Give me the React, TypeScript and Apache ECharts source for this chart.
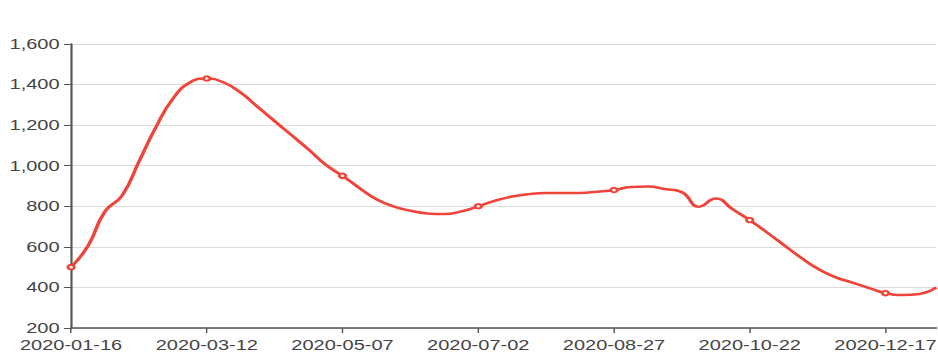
import React, { useEffect, useRef } from "react";
import * as echarts from "echarts";

const dates: string[] = [
  "2020-01-16", "2020-01-23", "2020-01-30", "2020-02-06", "2020-02-13", "2020-02-20", "2020-02-27",
  "2020-03-05", "2020-03-12", "2020-03-19", "2020-03-26", "2020-04-02", "2020-04-09", "2020-04-16",
  "2020-04-23", "2020-04-30", "2020-05-07", "2020-05-14", "2020-05-21", "2020-05-28", "2020-06-04",
  "2020-06-11", "2020-06-18", "2020-06-25", "2020-07-02", "2020-07-09", "2020-07-16", "2020-07-23",
  "2020-07-30", "2020-08-06", "2020-08-13", "2020-08-20", "2020-08-27", "2020-09-03", "2020-09-10",
  "2020-09-17", "2020-09-24", "2020-10-01", "2020-10-08", "2020-10-15", "2020-10-22", "2020-10-29",
  "2020-11-05", "2020-11-12", "2020-11-19", "2020-11-26", "2020-12-03", "2020-12-10", "2020-12-17",
  "2020-12-24", "2020-12-31", "2021-01-07",
];

const prices: number[] = [
  500, 605, 775, 852, 1020, 1190, 1330, 1410, 1430, 1410,
  1360, 1290, 1220, 1150, 1080, 1005, 950, 890, 835, 800,
  778, 765, 762, 775, 800, 828, 848, 860, 865, 865,
  866, 872, 880, 895, 897, 885, 870, 798, 838, 785,
  732, 672, 610, 548, 493, 452, 425, 398, 372, 363,
  368, 400,
];

const yTicks = { min: 200, max: 1600, interval: 200 };
const labelEvery = 8;

const STRETCH = 1.43;
const INNER_W = 658;
const H = 353;

export default function App() {
  const ref = useRef<HTMLDivElement>(null);
  useEffect(() => {
    if (!ref.current) return;
    const chart = echarts.init(ref.current, undefined, { renderer: "svg" });
    chart.setOption({
      animation: false,
      backgroundColor: "#ffffff",
      grid: { left: 49.7, right: 0, top: 44, bottom: 25, containLabel: false },
      xAxis: {
        type: "category",
        data: dates,
        boundaryGap: false,
        axisLine: { lineStyle: { color: "#555", width: 1.5 } },
        axisTick: { interval: labelEvery - 1, length: 5, lineStyle: { color: "#555" } },
        axisLabel: {
          interval: labelEvery - 1,
          margin: 10,
          color: "#444",
          fontSize: 14,
          lineHeight: 14,
          fontFamily: "Liberation Sans",
        },
        splitLine: { show: false },
      },
      yAxis: {
        type: "value",
        min: yTicks.min,
        max: yTicks.max,
        interval: yTicks.interval,
        axisLine: { show: true, lineStyle: { color: "#555", width: 1.5 } },
        axisTick: { show: true, length: 5, lineStyle: { color: "#555" } },
        axisLabel: { margin: 8, color: "#444", fontSize: 14, lineHeight: 14, fontFamily: "Liberation Sans" },
        splitLine: { lineStyle: { color: "#dcdcdc", width: 1 } },
      },
      series: [
        {
          type: "line",
          data: prices,
          smooth: true,
          symbol: "emptyCircle",
          symbolSize: (_v: any, p: any) => (p.dataIndex % labelEvery === 0 ? 4.5 : 0),
          showAllSymbol: true,
          lineStyle: { color: "#f0443a", width: 2.5 },
          itemStyle: { color: "#f0443a", borderColor: "#f0443a", borderWidth: 1 },
        },
      ],
    });
    return () => chart.dispose();
  }, []);
  return (
    <div
      style={{
        position: "fixed",
        left: 0,
        top: 0,
        width: 938,
        height: H,
        overflow: "hidden",
        background: "#fff",
      }}
    >
      <div
        ref={ref}
        style={{
          width: INNER_W,
          height: H,
          transform: `scaleX(${STRETCH})`,
          transformOrigin: "0 0",
        }}
      />
    </div>
  );
}
